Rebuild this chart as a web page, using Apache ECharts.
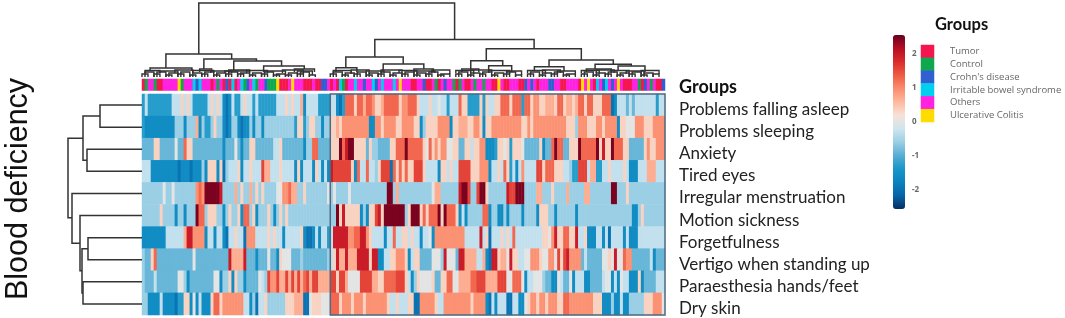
<!DOCTYPE html>
<html><head><meta charset="utf-8">
<script src="https://cdn.jsdelivr.net/npm/echarts@6/dist/echarts.min.js"></script>
<style>html,body{margin:0;padding:0;background:#fff}#c{width:1065px;height:318px;filter:blur(.4px)}</style>
</head><body><div id="c"></div>
<script>
const symptoms=['Problems falling asleep','Problems sleeping','Anxiety','Tired eyes','Irregular menstruation','Motion sickness','Forgetfulness','Vertigo when standing up','Paraesthesia hands/feet','Dry skin'];
const groupNames=['Tumor','Control',"Crohn's disease",'Irritable bowel syndrome','Others','Ulcerative Colitis'];
const groupColors=['#f5164f','#0fa84f','#2f5fd0','#00d0ee','#ff22e0','#ffdc00'];
const colourTicks=[-3,-2,-1,0,1,2,3];
// group of each sample (index into groupNames)
const sampleGroups=[
0,1,4,4,1,0,0,4,4,4, 4,4,5,1,4,4,4,3,2,3, 4,4,4,0,4,1,4,0,2,0, 3,0,4,3,1,2,4,3,1,4,
4,2,1,1,1,5,0,0,0,4, 5,4,4,4,0,0,0,4,0,0, 2,2,4,0,4,0,3,1,0,4, 4,3,4,4,2,4,4,3,2,4,
3,4,4,4,3,4,5,4,4,4, 0,0,4,4,2,0,0,4,1,0, 4,2,4,4,1,0,1,4,0,0, 4,1,4,4,1,4,4,0,0,5,
4,0,0,4,4,4,0,0,2,4, 2,4,0,4,4,4,2,2,4,4, 0,0,4,4,4,4,0,5,4,5, 4,0,3,4,2,3,4,2,4,5,
4,0,0,0,4,4,1,0,2,4, 1,4,0,0,2];
const problemsFallingAsleep=[
-1.3,-.3,-1.3,-1.3,-1.3,-1.3,-1.3,-1.3,-1.3,-1.3, -.3,-.3,-.3,.35,-.3,.35,-.3,-1.3,-1.3,-1.3,
-1.3,-1.3,-.3,.35,-.3,.35,-.3,-1.6,-2,-1.6, -.3,-1.3,-1.3,-.3,.35,-.3,-.3,-1.3,-.3,-1.3,
-1.3,-1.3,-1.3,-1.3,-1.3,-.3,-.3,-.3,.35,-.3, .35,-.3,-.3,.7,-1.6,-.3,-.3,-.3,-.3,-1.3,
-1.3,-1.3,-1.3,-.3,-.3,-1.6,-2,-1.3,1.3,1.3, 1.3,.35,1.3,1.3,.7,1.3,1.3,.95,.35,.35,
.7,1.3,1.3,1.3,1.3,1.3,.35,.95,.95,1.3, 1.3,1.3,.35,-.3,-.3,-.3,.35,-.3,-.3,0,
-.3,-.3,-1.3,-.3,-.3,-.3,1.3,.35,.35,-1.3, -1.3,-1.3,-1.3,.35,-1.3,.35,-.3,-.3,.35,.35,
1.3,1.3,1.3,.35,1.3,1.3,1.3,-1.3,1.3,1.3, .35,.95,.95,.35,.35,.7,.7,.7,.35,1.3,
1.3,.35,.7,.7,.35,.7,1.3,1.3,.35,1.3, 1.3,.35,.35,.35,1.3,1.3,1.3,-2,-1.6,-.3,
-.3,-.3,-.9,-.3,-.9,-.3,-.3,-.3,-.3,-.3, -.3,-.3,-1.3,-.3,-.3];
const problemsSleeping=[
-1.3,-1.6,-1.6,-1.6,-1.6,-1.6,-1.6,-1.6,-1.6,-1.6, -1.6,-.6,-.6,-.6,-1.6,-.6,-.6,-.6,.7,-1.6,
-.6,-1.3,-1.3,-.6,.35,-.6,-.6,-1.6,-2,-1.6, -.6,-.6,-1.6,-2,-1.6,-1.6,-.6,-1.6,-.6,-.6,
-1.6,-.6,-.6,-.6,-.6,-.6,-.6,-.6,-.6,-.6, -.6,-1.3,.35,.35,-1.3,-.6,.35,.35,-.6,-.6,
-1.6,-.6,-.6,.35,.35,.7,.35,.95,.95,.95, .95,.95,.95,.95,.95,.95,-1.6,-1.6,.95,.95,
.35,.95,.95,.95,.95,.35,.35,.95,.95,.95, .95,.35,.35,-1.6,-.6,.35,.35,.35,.35,.95,
.95,.95,.95,-1.6,.35,.35,.7,.7,.7,.35, .35,.95,.95,.35,-1.6,.35,.35,.95,.95,.95,
.95,.95,.95,.95,.95,.95,.95,.35,.35,.95, .35,.95,.95,.95,.95,.95,.95,.95,.95,.95,
.95,.95,.35,.35,.35,-.6,.95,.95,.95,.35, .35,.35,.95,.95,.35,.95,.95,.95,.95,-1.6,
.35,.35,0,0,0,.95,.95,.95,.35,.35, .35,.95,.95,.95,.95];
const anxiety=[
-.9,-.9,-.9,-.9,.35,.35,-.9,-.9,-.9,-.9, -.9,0,-.9,-.9,1.3,.35,.35,-.9,-.9,-.9,
-.9,-.9,-.9,-.9,-.9,-.9,-.9,-1.6,-.9,-.9, -.9,0,-.9,-1.6,-.9,-.9,.35,.35,-.9,-.9,
-.9,-.9,-.9,-.9,-.3,-.3,.35,-.9,-.9,-.9, -.9,-.9,-.9,-.9,-1.6,-.6,-.6,1.3,1.3,-.9,
-.9,-.9,-.9,.35,.35,.35,2.5,1.3,2,2.5, 2.5,.35,.35,.35,.35,-.9,.35,-.6,-.6,-.9,
-.9,-.9,-.9,.35,.35,1.3,1.3,1.3,2.5,1.3, 1.3,1.3,1.3,1.3,.35,0,1.3,.35,.95,.35,
.95,.95,0,0,.35,.35,-.9,-.9,.35,.35, -.3,.35,.35,.95,.95,-1.6,-1.6,-1.6,-1.3,.35,
.35,0,.35,-1.3,.35,.35,.35,0,-.9,-.9, -.9,-.9,-.9,.35,-1.6,-.9,-.9,1.3,2.5,1.3,
1.3,-.9,-.9,.35,.35,.35,2.5,1.3,1.3,1.3, 1.3,1.3,2.5,.35,2,.35,.35,2.5,1.3,1.3,
1.3,.35,.35,-.9,-.9,-.9,-.9,-.9,.35,.95, .35,.35,.95,.95,.95];
const tiredEyes=[
-.3,-.3,-.3,-1.6,-1.6,-1.6,-1.6,-1.6,-1.6,-1.6, -1.6,-1.6,-2,-1.6,-1.6,-1.6,-2,-1.6,-1.6,-1.6,
-.6,-1.6,.35,.35,.35,-1.6,.35,-2,-.6,-.3, -.3,-.3,.35,-1.6,-.3,-.3,.35,-.3,-.3,-.3,
1.6,.7,.7,-.3,-.3,-.3,.35,-.3,-.3,-.3, -.3,-1.6,.35,-1.6,-.3,-.3,-.3,-1.6,.35,-.3,
-1.6,-.3,-1.6,2,1.6,1.6,1.6,1.6,1.6,1.6, .35,-1.6,1.3,-.3,-.3,1.3,-.3,-.3,-.6,.35,
1.6,1.6,1.6,-2,1.3,.35,1.3,.35,1.3,.35, .35,1.6,1.6,1.6,.35,-.3,-.3,-.3,-.3,-1.6,
.35,.35,-.3,.35,-.3,-.3,1.6,1.6,1.6,1.6, .35,.35,.35,.95,.95,.95,-1.6,-.3,-.3,.35,
-.3,1.3,.35,-1.3,-.3,-1.6,-.3,.95,-.3,-.3, -.3,-.3,1.6,1.6,.35,1.3,1.3,1.3,.35,.35,
.35,-.3,-.3,-.6,-1.3,-1.3,1.6,1.6,1.6,-.3, .7,.7,-1.3,-1.3,-.3,-.3,.35,-.3,-.3,-.3,
-.3,.35,-.3,-1.6,-1.6,-1.6,-.3,-.3,-.3,.7, .7,.7,-.3,-.3,-.3];
const irregularMenstruation=[
-.6,-.6,-.6,-.6,-.6,-.6,-.6,0,-.6,-.6, 0,-.6,-.6,-.6,-.6,-.6,-.6,-.6,.95,1.3,
.95,2.5,2.5,2.5,2.5,2.5,2,-.6,-.6,-.6, -.6,.7,-.6,.35,-.6,-.6,.7,-.6,.35,-.6,
.35,-.6,-.6,-.6,-.6,0,0,.95,.95,1.3, .7,.7,-.6,-.6,.35,-.6,-.6,-.6,-.6,-.6,
-.6,-.6,0,-.6,0,-.6,-.6,-.6,-.6,0, -.6,-.6,-.6,-.6,-.6,-.6,-.6,-.6,-.6,-.6,
-.6,-.6,2.5,2.5,-.6,.7,-.6,-.6,-.6,-.6, -.6,-.6,-.6,-.6,-.6,-.6,-.6,0,.7,.7,
-.6,-.6,-.6,-.6,-.6,-.6,2,2.5,2.5,1.6, -.6,-.6,1.6,2.5,2.5,.35,-.6,-.6,-.6,-.6,
-.6,-.6,2,1.6,1.6,2.5,2.5,2.5,-.6,-.6, -.6,-.6,.7,.7,-.6,-.6,-.6,.35,-.6,-.6,
-.6,-.6,.7,-.6,-.6,-.6,-.6,-.6,.7,.7, -.6,-.6,-.6,-.6,-.6,-.6,-.6,2.5,2.5,-.6,
-.6,-.6,.35,-.6,-.6,-.6,-.6,-.6,-.6,-.6, -.6,-.6,-.6,-.6,-.6];
const motionSickness=[
-.6,-.6,-.6,-.6,-.6,-.6,.35,-.6,-.6,-.6, -.6,-1.6,-.6,-.6,-1.6,-.6,-.6,-.6,2.5,1.3,
1.3,-.6,.35,.35,.35,-.6,-.6,-1.6,-.6,.35, -.6,-.6,.35,-1.6,1.3,1.3,-.6,.35,-1.6,-.6,
-.6,-.6,.35,-.6,-1.6,-.6,.35,-.6,.35,-.6, -.6,-.6,-.6,-.6,-.6,-.6,-.6,-.6,-.6,-.6,
-.6,-.6,-.6,-.6,-.6,2.5,.35,2,.35,.35, .35,.35,.35,-1.6,-.6,-1.6,.35,.35,1.6,2,
.35,2.5,2.5,2.5,2.5,2.5,2.5,2.5,-.6,.35, 2.5,2.5,2.5,.35,1.3,.35,1.3,1.3,1.3,2.5,
.35,2.5,1.3,1.3,1.3,.35,-1.6,-.3,-1.6,-.6, -.6,-.6,-.6,-.6,1.3,1.3,-1.6,-.6,-.6,-1.6,
-1.6,-.6,-1.6,-.6,-.6,-.6,-.6,-1.6,-.6,-.6, -.6,-.6,-1.6,.35,.35,.35,-.6,-.6,-1.6,-.6,
-.6,-.6,-.6,-.6,-.6,-1.6,-.6,-.6,-.6,-.6, -.6,-.6,-.6,-.6,-.6,-.6,-.6,-.6,-.6,-.6,
-.6,-.6,-.6,-.6,-1.6,-1.6,-.6,.35,-.6,-.6, -.6,-.6,-.6,-.6,-.6];
const forgetfulness=[
-1.6,-1.6,-1.6,-1.6,-1.6,-1.6,-1.6,-1.6,-.3,-.3, -.3,-.3,-.3,-.3,.7,2,2,.95,.95,.95,
.95,-1.6,-.3,-.3,-1.6,-.3,-.3,-1.6,-2,-.3, -.3,.35,-.3,-.3,-2,.95,.95,.95,-.3,-.3,
-.3,-.3,.35,-.3,.35,-.3,-.3,-1.6,-.3,-.3, -.3,-.3,-.3,.35,-1.6,-2,-2,-1.6,-.3,-1.6,
-.3,-.3,-1.3,-.3,2,2,2,2,2,.95, .95,1.3,1.3,2,2,.95,.35,-.3,-.3,-.3,
-.3,-1.6,-.3,-.3,1.3,-.3,-.3,.35,.35,-.3, .35,-.3,-.3,-1.6,-.3,-.3,0,-1.6,.95,.95,
.95,.95,.95,.95,.95,.95,.95,.95,-.3,-.3, -.3,-.3,-.3,2,-.3,.35,-2,-.3,-.3,-.3,
.35,-.3,.35,-.3,1.3,-.3,-.3,-.3,-.3,-.3, -.3,-.3,-.3,-.3,.35,.35,0,.95,2,.35,
.35,1.3,1.3,.35,.35,2,-.3,-.3,.35,-1.6, -1.6,-1.6,-.3,-.3,-1.6,-.3,-2,-.3,-.3,-.3,
-.3,-1.6,-.3,-1.6,-1.6,-1.6,-.3,-.3,-.3,-.3, -.3,-.3,-.3,-.3,-.3];
const vertigoWhenStandingUp=[
-.6,-.9,-.9,.35,1.3,-.9,-.9,-.9,-.9,-.9, -.9,-.9,-.9,-.9,-.9,-.9,-.9,0,-.9,-.9,
-.9,-.9,-.9,-.9,-.9,-.9,-.9,-.9,-.9,2, .7,.7,.7,.7,2,-.9,-.9,-.9,-1.6,-.9,
-.9,-.9,0,-.9,-.9,-1.6,.35,0,0,0, -.9,-.9,-.9,-.6,-.9,-.9,-.9,-.9,-.9,-.9,
-.9,-.9,-.6,-.3,.35,2,.7,.7,2,.7, .7,.7,2,2,2,2,.35,2,2,-1.6,
-1.6,-.3,-.3,.35,.35,.95,.95,.95,.35,-1.6, -.3,.35,.35,-.9,-.9,-.9,-.9,0,0,0,
-.6,2,0,0,0,-.9,2,2,.7,.7, .7,.7,-.3,-.3,.7,-1.6,-2,2,2,.35,
.7,.7,0,2,.35,.35,-.3,-.3,0,0, .95,.95,.95,.35,0,0,.95,.95,0,1.6,
.35,1.6,2,.95,.95,.95,.95,-.9,-.3,-.9, -.9,-.9,-.9,-.9,0,0,.35,0,2,0,
0,1.3,.95,.95,-.9,-.9,-.9,-.9,-.9,-.9, -.3,-1.6,-.9,-.9,-.9];
const paraesthesiaHandsFeet=[
-.6,-.9,-.9,-.9,-.3,-.9,-.9,-.9,-.9,-.9, -.9,-.9,0,0,-.6,-1.6,-.9,-.9,-.9,-.9,
-.9,-.9,-.9,-.9,0,0,-1.6,-.6,-.6,.35, -1.6,.35,-.6,-.6,-1.6,-.9,-.9,-.9,-.9,0,
-.3,-.6,1.6,.95,.95,1.6,.7,.7,1.6,.7, 1.6,.7,1.6,.7,1.3,1.6,.7,1.6,1.6,.7,
.7,.7,.7,1.6,1.6,.35,1.6,1.6,.7,0, 0,0,0,1.6,1.6,1.6,1.6,.7,.7,.35,
.35,1.3,1.3,1.3,1.3,1.6,1.6,1.6,.35,-.3, -1.6,-.6,.35,0,0,0,0,.35,-.9,-.9,
.35,.35,1.3,1.3,0,0,.7,.7,.7,.7, 1.3,1.3,1.6,1.6,1.6,.7,.7,.7,.7,1.6,
1.6,1.6,0,0,1.3,1.3,1.3,0,-1.6,-.3, -.3,0,0,0,-.6,-.9,-.9,-1.6,-1.6,0,
-.3,-.9,-.9,0,-1.6,-.3,-.3,-.3,-1.6,-1.6, -.9,-.9,-.9,-.9,-.3,0,0,-1.6,-.3,-1.6,
0,-.3,-.3,-1.6,-1.6,-1.6,.35,-1.6,-.9,-.9, -.9,-.9,-.3,-.3,-.3];
const drySkin=[
-.6,-.6,-1.6,-1.6,-1.6,-1.6,-.3,-1.6,-1.6,-1.6, -1.6,-2,-1.3,-1.3,.35,.35,-1.6,0,-1.6,-.3,
-1.6,-1.6,-1.6,.35,1.3,1.3,.35,.95,.95,.95, .95,.95,.95,.95,-.3,-.3,-1.6,-.6,-2,-.3,
-.3,.35,-.6,-.6,-.6,-.6,-.6,-.6,.35,.35, .35,.7,.7,.7,-2,-2,0,.35,.35,.35,
0,0,0,1.3,1.3,1.3,.35,.95,.95,.95, .35,.95,.95,.95,.35,.95,.95,.95,.95,.95,
.95,.95,.35,-.3,-.3,.35,-.3,-.3,-.3,.35, .35,-2,-2,.95,.95,.95,.95,.95,.35,-.3,
-.3,.95,.95,.95,.95,.95,.95,.95,.95,.95, .35,.95,.95,.95,.95,-1.6,-2,-.3,-1.6,-.3,
-.3,-.3,-2,-2,-.3,-.3,-1.6,-1.6,0,.35, .95,.95,.35,.95,.95,.35,.95,.95,.95,.35,
.35,1.3,1.3,.95,.95,.95,.95,.95,.95,.95, .95,.35,.35,.35,-1.6,-1.6,-1.6,-.6,-1.6,-1.6,
-.3,-1.6,-1.6,-.6,-.6,-.6,-.6,-.6,.35,.35, .35,.95,.95,.95,0];
const matrix=[problemsFallingAsleep,problemsSleeping,anxiety,tiredEyes,irregularMenstruation,motionSickness,forgetfulness,vertigoWhenStandingUp,paraesthesiaHandsFeet,drySkin];
// dendrogram merges: first branch, second branch, merge height, heights of both children
const sampleMerges=[
[19,104.6,74,23,37.5],[8,30,23,9,18],[2.7,16.7,9,6,6],[20.7,38.3,18,8,16],[19.3,23.3,8,5,5],
[30.7,46.7,16,6,11],[27.7,36,6,4,5],[40.7,54.3,11,5,8],[51,57.7,8,5,5],
[77.9,131.2,37.5,20,28.3],[68.2,87.4,20,9.3,13],[64.9,71.9,9.3,5,5],[80.7,94.3,13,6,8],[91,97.5,8,5,5],
[115.2,147,28.3,16.3,17],[110,120.7,16.3,8,11.3],[107,112.7,8,5,5],[116,123.7,11.3,6,5],
[136.2,157.7,17,10.3,12.7],[131.3,141.2,10.3,6,6],[151.6,163.7,12.7,8,11],[148.7,157,8,5,5],[159.3,168.3,11,6,5]];
const leafMerges=[
[0,2,3],[1,4,5],[4,6,3],[5,8,5],[8,10,2],[9,12,4],[12,14,3],[13,16,5],[16,18,2],[17,20,4],[20,22,3],[21,24,5],[24,26,2],[25,28,4],[28,30,3],[29,32,5],[32,34,3],[33,36,4],[36,38,2],[37,40,4],[40,42,3],[41,44,5],[44,46,2],[45,48,3],[48,50,2],[49,52,4],[52,54,3],[53,56,5],[56,58,2],
[63,65,3],[64,67,5],[67,69,2],[68,71,4],[71,73,3],[72,75,5],[75,77,2],[76,79,4],[79,81,3],[80,83,5],[83,85,2],[84,87,4],[87,89,3],[88,91,5],[91,93,2],[92,95,4],[95,97,3],[96,99,5],[99,101,2],[100,103,3],
[105,107,3],[106,109,5],[109,111,2],[110,113,4],[113,115,3],[114,117,5],[117,119,2],[118,121,4],[121,123,3],[122,125,5],[125,127,2],
[129,131,3],[130,133,5],[133,135,2],[134,137,4],[137,139,3],[138,141,5],[141,143,2],[142,145,3],
[147,149,3],[148,151,5],[151,153,2],[152,155,4],[155,157,3],[156,159,5],[159,161,2],[160,163,4],[163,165,3],[164,167,5],[167,169,2],[168,171,4],[171,173,3]];
const leafParents=[
[1,6,6.5,4,4],[6,12,6,4,3],[11,17,7,4,4],[17,24,6.5,4,4],[23,30,6,4,4],[29,36,7,4,4],[35,42,6.5,4,4],[41,48,6,4,3],[47,54,7,4,3],[52,57,6,3,2],
[64,70,6.5,4,3],[70,76,7,4,3],[75,81,6,3,4],[80,87,7,4,4],[86,92,6.5,4,3],[91,98,6,3,4],[97,103,7,4,3],
[105,111,6.5,4,3],[110,117,7,4,4],[116,123,6.5,4,3],[122,127,6,4,2],
[129,135,6.5,4,3],[134,140,7,4,4],[139,145,6,3,3],
[147,153,6.5,4,3],[152,158,7,4,4],[157,163,6.5,4,4],[162,168,6,3,3],[167,173,6.5,3,3]];
const symptomMerges=[
[.5,1.5,42,0,0],[2.5,3.5,55,0,0],[1,3,59,42,55],[6.5,7.5,54,0,0],[8.5,9.5,59,0,0],
[7,9,60,54,59],[5.5,8,62,0,60],[4.5,6.75,70,0,62],[2,5.6,74,59,70]];
const clusterFrame=[[63,174]];

const sampleCats=sampleGroups.map((_,i)=>String(i));
const heat=[];matrix.forEach((row,r)=>row.forEach((v,c)=>heat.push([c,r,v])));
const dendro=(vertical,width)=>(p,api)=>{
  const a=api.value(0),b=api.value(1),h=api.value(2),ha=api.value(3),hb=api.value(4);
  const pt=(pos,ht)=>vertical?api.coord([pos,ht]):api.coord([ht,pos]);
  return {type:'polyline',silent:true,shape:{points:[pt(a,ha),pt(a,h),pt(b,h),pt(b,hb)]},
    style:{fill:null,stroke:'#333',lineWidth:width}};
};
const none={show:false};
const chart=echarts.init(document.getElementById('c'),null,{renderer:'canvas'});
chart.setOption({
  animation:false,backgroundColor:'#fff',
  textStyle:{fontFamily:'Lato'},
  grid:[
    {left:142,top:94,width:523,height:221},
    {left:142,top:79,width:523,height:11.5},
    {left:142,top:0,width:523,height:77},
    {left:60,top:94,width:82,height:221},
    {left:921,top:45,width:13,height:77},
    {left:900,top:20,width:1,height:204}
  ],
  xAxis:[
    {type:'category',gridIndex:0,data:sampleCats,show:false},
    {type:'category',gridIndex:1,data:sampleCats,show:false},
    {type:'value',gridIndex:2,min:0,max:175,show:false},
    {type:'value',gridIndex:3,min:0,max:82,inverse:true,show:false},
    {type:'category',gridIndex:4,data:['Groups'],show:false},
    {type:'value',gridIndex:5,show:false}
  ],
  yAxis:[
    {type:'category',gridIndex:0,data:symptoms,inverse:true,position:'right',axisLine:none,axisTick:none,splitLine:none,
     axisLabel:{interval:0,margin:14,fontSize:17,color:'#222',fontFamily:'Lato',verticalAlign:'top',lineHeight:9}},
    {type:'category',gridIndex:1,data:['Groups'],position:'right',axisLine:none,axisTick:none,
     axisLabel:{margin:14,fontSize:18,fontWeight:'bold',color:'#111',fontFamily:'Lato',verticalAlign:'top',lineHeight:4}},
    {type:'value',gridIndex:2,min:0,max:77,show:false},
    {type:'value',gridIndex:3,min:0,max:10,inverse:true,show:false},
    {type:'category',gridIndex:4,data:groupNames,inverse:true,position:'right',axisLine:none,axisTick:none,
     axisLabel:{interval:0,hideOverlap:false,margin:16,fontSize:9.5,color:'#666',fontFamily:'Open Sans'}},
    {type:'value',gridIndex:5,min:-3,max:3,interval:1,position:'right',axisLine:none,axisTick:none,splitLine:none,
     axisLabel:{margin:11,fontSize:8,fontWeight:'bold',color:'#666',fontFamily:'Open Sans',
       formatter:v=>colourTicks.indexOf(v)>0&&colourTicks.indexOf(v)<colourTicks.length-1?String(v):''}}
  ],
  visualMap:[
    {type:'continuous',seriesIndex:0,dimension:2,min:-2.6,max:2.6,left:893,top:35,itemWidth:12,itemHeight:174,
     calculable:false,showLabel:false,text:null,realtime:false,hoverLink:false,padding:0,
     inRange:{color:['#053061','#0863a8','#0a82bf','#1797c9','#57add3','#9bcfe5','#cfe5ef','#f7e2d8','#fdb99e','#fb8c6e','#ef5b44','#d92b2c','#b80d24','#67001f']}},
    {type:'piecewise',seriesIndex:[1,2],dimension:2,show:false,
     pieces:groupColors.map((color,value)=>({value,color}))}
  ],
  graphic:[
    {type:'text',x:3,y:300,rotation:Math.PI/2,silent:true,
     style:{text:'Blood deficiency',font:'30.5px "Liberation Sans"',fill:'#111',textAlign:'left',textVerticalAlign:'top'}},
    {type:'text',x:935,y:16,silent:true,style:{text:'Groups',font:'bold 16.5px Lato',fill:'#111'}}
  ],
  series:[
    {type:'heatmap',xAxisIndex:0,yAxisIndex:0,data:heat,progressive:0,emphasis:{disabled:true},silent:true},
    {type:'heatmap',xAxisIndex:1,yAxisIndex:1,data:sampleGroups.map((g,i)=>[i,0,g]),progressive:0,emphasis:{disabled:true},silent:true},
    {type:'heatmap',xAxisIndex:4,yAxisIndex:4,data:groupNames.map((n,i)=>[0,i,i]),progressive:0,emphasis:{disabled:true},silent:true},
    {type:'custom',xAxisIndex:0,yAxisIndex:0,data:clusterFrame,z:5,silent:true,
     encode:{x:0,y:1},
     renderItem:(p,api)=>{
       const s=api.size([1,1]);const a=api.coord([api.value(0),0]);const b=api.coord([api.value(1),symptoms.length-1]);
       return {type:'rect',silent:true,shape:{x:a[0]-s[0]/2,y:a[1]-s[1]/2,width:b[0]-a[0]+s[0],height:b[1]-a[1]+s[1]},
         style:{fill:null,stroke:'#4d6a82',lineWidth:1.5}};
     }},
    {type:'custom',xAxisIndex:2,yAxisIndex:2,silent:true,encode:{x:0,y:2},data:sampleMerges,renderItem:dendro(true,1.5)},
    {type:'custom',xAxisIndex:2,yAxisIndex:2,silent:true,encode:{x:0,y:2},
     data:leafParents.concat(leafMerges.map(m=>[m[0],m[1],m[2],0,0])),renderItem:dendro(true,1.4)},
    {type:'custom',xAxisIndex:3,yAxisIndex:3,silent:true,encode:{x:2,y:0},data:symptomMerges,renderItem:dendro(false,1.5)}
  ]
});
</script></body></html>
